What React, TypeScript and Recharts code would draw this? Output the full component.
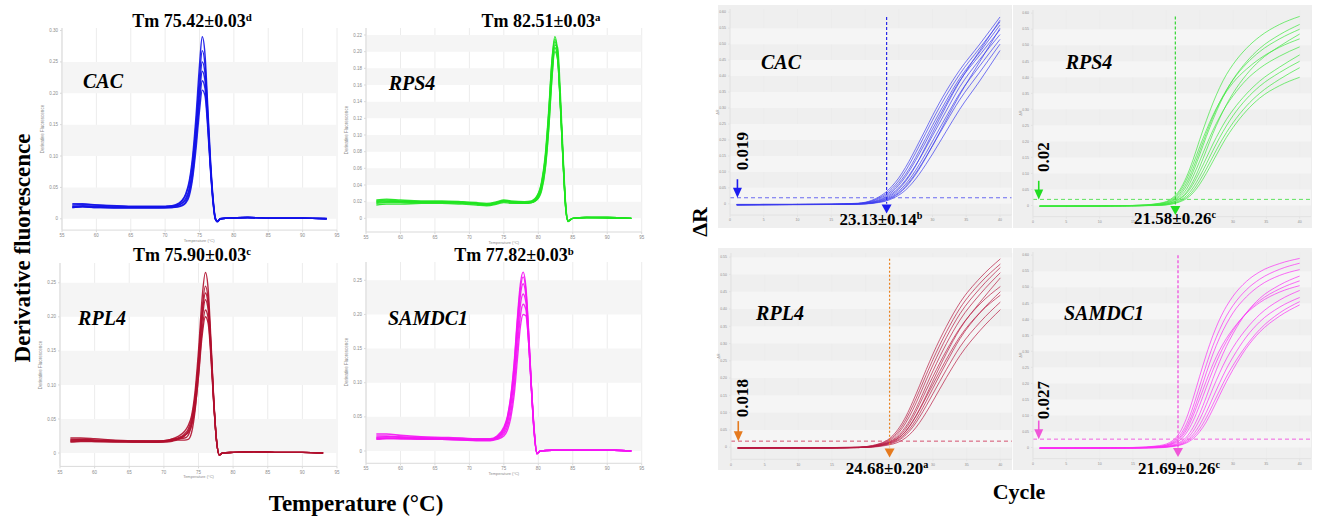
import React from 'react';
import { LineChart, Line, XAxis, YAxis, CartesianGrid, ReferenceArea, ReferenceLine, ReferenceDot } from 'recharts';

const SERIF = '"Liberation Serif", "Times New Roman", serif';
const SANS = '"Liberation Sans", Arial, sans-serif';

// ---------------- Melt curve data ----------------
const CAC_TEMPS = [56.5, 58, 60, 63, 66, 69, 71, 72, 72.5, 73, 73.5, 74, 74.5, 75, 75.4, 75.8, 76.2, 76.6, 77, 77.3, 77.6, 78, 79, 82, 86, 90, 93.5];
const CAC_MELT = [
  [0.022, 0.023, 0.022, 0.021, 0.020, 0.020, 0.021, 0.025, 0.030, 0.040, 0.060, 0.100, 0.165, 0.245, 0.290, 0.262, 0.180, 0.095, 0.030, 0.002, -0.004, 0.000, 0.001, 0.002, 0.001, 0.001, 0.001],
  [0.020, 0.021, 0.020, 0.019, 0.019, 0.019, 0.020, 0.024, 0.029, 0.038, 0.056, 0.092, 0.152, 0.226, 0.268, 0.245, 0.170, 0.088, 0.028, 0.001, -0.004, 0.000, 0.001, 0.002, 0.001, 0.001, 0.000],
  [0.019, 0.020, 0.019, 0.018, 0.018, 0.018, 0.019, 0.022, 0.026, 0.033, 0.048, 0.082, 0.140, 0.210, 0.250, 0.232, 0.162, 0.085, 0.026, 0.000, -0.005, -0.001, 0.001, 0.002, 0.001, 0.001, 0.000],
  [0.024, 0.024, 0.022, 0.020, 0.019, 0.019, 0.020, 0.022, 0.025, 0.030, 0.045, 0.078, 0.132, 0.198, 0.235, 0.220, 0.156, 0.082, 0.025, 0.000, -0.004, 0.000, 0.001, 0.002, 0.001, 0.001, 0.000],
  [0.018, 0.019, 0.018, 0.018, 0.018, 0.018, 0.018, 0.020, 0.022, 0.027, 0.040, 0.070, 0.122, 0.185, 0.220, 0.208, 0.150, 0.080, 0.024, 0.000, -0.004, 0.000, 0.001, 0.002, 0.001, 0.001, 0.000],
  [0.018, 0.019, 0.018, 0.017, 0.017, 0.017, 0.018, 0.019, 0.021, 0.025, 0.036, 0.064, 0.112, 0.172, 0.205, 0.196, 0.144, 0.076, 0.022, -0.001, -0.004, 0.000, 0.001, 0.002, 0.001, 0.001, 0.000],
];

const RPS4_TEMPS = [56.5, 58, 60, 63, 66, 69, 71, 72.5, 74, 75, 76, 78, 79, 80, 80.5, 81, 81.5, 82, 82.4, 82.8, 83.2, 83.6, 84, 84.3, 85, 87, 90, 93.5];
const RPS4_MELT = [
  [0.022, 0.023, 0.022, 0.021, 0.021, 0.020, 0.019, 0.018, 0.020, 0.022, 0.021, 0.020, 0.021, 0.030, 0.045, 0.075, 0.128, 0.192, 0.218, 0.200, 0.140, 0.070, 0.012, -0.003, 0.000, 0.001, 0.001, 0.000],
  [0.020, 0.021, 0.020, 0.020, 0.020, 0.019, 0.018, 0.017, 0.019, 0.021, 0.020, 0.019, 0.020, 0.028, 0.042, 0.070, 0.122, 0.186, 0.212, 0.196, 0.138, 0.068, 0.011, -0.003, 0.000, 0.001, 0.001, 0.000],
  [0.018, 0.019, 0.019, 0.019, 0.019, 0.018, 0.017, 0.016, 0.018, 0.020, 0.019, 0.018, 0.019, 0.026, 0.038, 0.064, 0.114, 0.178, 0.205, 0.192, 0.136, 0.067, 0.010, -0.004, 0.000, 0.001, 0.001, 0.000],
  [0.016, 0.017, 0.017, 0.018, 0.018, 0.017, 0.016, 0.015, 0.017, 0.019, 0.018, 0.018, 0.019, 0.025, 0.036, 0.060, 0.108, 0.172, 0.200, 0.190, 0.135, 0.066, 0.010, -0.003, 0.000, 0.001, 0.000, 0.000],
  [0.021, 0.022, 0.021, 0.020, 0.020, 0.019, 0.018, 0.017, 0.019, 0.021, 0.020, 0.019, 0.019, 0.024, 0.034, 0.058, 0.105, 0.170, 0.208, 0.205, 0.150, 0.076, 0.014, -0.003, 0.000, 0.001, 0.001, 0.000],
  [0.019, 0.020, 0.020, 0.019, 0.019, 0.019, 0.018, 0.016, 0.018, 0.021, 0.020, 0.019, 0.020, 0.029, 0.043, 0.072, 0.125, 0.190, 0.215, 0.198, 0.139, 0.069, 0.011, -0.003, 0.000, 0.001, 0.001, 0.000],
];

const RPL4_TEMPS = [56.5, 58, 60, 63, 66, 69, 70, 71, 72, 73, 73.5, 74, 74.5, 75, 75.5, 76, 76.4, 76.8, 77.2, 77.6, 78, 78.5, 80, 83, 86, 90, 93];
const RPL4_MELT = [
  [0.019, 0.020, 0.019, 0.018, 0.017, 0.017, 0.018, 0.020, 0.024, 0.032, 0.040, 0.055, 0.090, 0.150, 0.225, 0.265, 0.240, 0.165, 0.080, 0.020, -0.002, 0.000, 0.001, 0.002, 0.001, 0.001, 0.000],
  [0.022, 0.022, 0.021, 0.019, 0.018, 0.018, 0.018, 0.020, 0.022, 0.028, 0.035, 0.050, 0.082, 0.138, 0.208, 0.245, 0.225, 0.158, 0.078, 0.019, -0.003, 0.000, 0.001, 0.002, 0.001, 0.001, 0.000],
  [0.017, 0.018, 0.017, 0.017, 0.016, 0.016, 0.017, 0.018, 0.020, 0.025, 0.032, 0.045, 0.075, 0.128, 0.192, 0.225, 0.210, 0.150, 0.075, 0.018, -0.003, 0.000, 0.001, 0.002, 0.001, 0.001, 0.000],
  [0.016, 0.017, 0.017, 0.016, 0.016, 0.016, 0.016, 0.017, 0.019, 0.019, 0.020, 0.030, 0.062, 0.115, 0.178, 0.210, 0.198, 0.145, 0.074, 0.018, -0.003, 0.000, 0.001, 0.002, 0.001, 0.001, 0.000],
  [0.018, 0.018, 0.018, 0.017, 0.017, 0.016, 0.017, 0.018, 0.021, 0.026, 0.030, 0.040, 0.066, 0.112, 0.170, 0.200, 0.190, 0.140, 0.072, 0.018, -0.003, 0.000, 0.001, 0.002, 0.001, 0.001, 0.000],
  [0.020, 0.020, 0.019, 0.018, 0.017, 0.017, 0.017, 0.019, 0.021, 0.022, 0.026, 0.042, 0.078, 0.134, 0.200, 0.235, 0.218, 0.155, 0.077, 0.019, -0.003, 0.000, 0.001, 0.002, 0.001, 0.001, 0.000],
];

const SAMDC1_TEMPS = [56.5, 58, 60, 63, 66, 69, 71, 73, 74, 75, 75.5, 76, 76.5, 77, 77.4, 77.8, 78.2, 78.6, 79, 79.4, 79.8, 80.3, 82, 85, 88, 91, 93.5];
const SAMDC1_MELT = [
  [0.025, 0.025, 0.023, 0.021, 0.020, 0.019, 0.018, 0.018, 0.022, 0.035, 0.050, 0.080, 0.130, 0.200, 0.245, 0.262, 0.240, 0.175, 0.095, 0.030, -0.003, 0.000, 0.001, 0.001, 0.001, 0.001, 0.000],
  [0.020, 0.021, 0.020, 0.019, 0.018, 0.017, 0.017, 0.017, 0.020, 0.031, 0.045, 0.072, 0.118, 0.183, 0.228, 0.245, 0.228, 0.168, 0.092, 0.028, -0.004, 0.000, 0.001, 0.001, 0.001, 0.001, 0.000],
  [0.018, 0.019, 0.019, 0.018, 0.018, 0.017, 0.016, 0.016, 0.019, 0.028, 0.040, 0.065, 0.108, 0.170, 0.214, 0.230, 0.218, 0.162, 0.090, 0.027, -0.004, 0.000, 0.001, 0.001, 0.001, 0.001, 0.000],
  [0.019, 0.019, 0.018, 0.018, 0.017, 0.016, 0.016, 0.016, 0.018, 0.025, 0.035, 0.056, 0.095, 0.155, 0.198, 0.215, 0.207, 0.158, 0.090, 0.028, -0.004, 0.000, 0.001, 0.001, 0.001, 0.001, 0.000],
  [0.017, 0.018, 0.018, 0.017, 0.017, 0.016, 0.015, 0.015, 0.017, 0.022, 0.030, 0.048, 0.082, 0.138, 0.182, 0.200, 0.198, 0.158, 0.094, 0.032, -0.003, 0.000, 0.001, 0.001, 0.001, 0.001, 0.000],
  [0.022, 0.022, 0.021, 0.020, 0.019, 0.018, 0.017, 0.017, 0.021, 0.033, 0.048, 0.078, 0.126, 0.194, 0.238, 0.255, 0.235, 0.172, 0.094, 0.029, -0.004, 0.000, 0.001, 0.001, 0.001, 0.001, 0.000],
];

// ---------------- Amplification data ----------------
const CYCLES = [1, 5, 10, 15, 19, 21, 22, 23, 24, 25, 26, 27, 28, 29, 30, 32, 34, 37, 40];
const CAC_AMP = [
  [-0.003, -0.002, -0.002, -0.001, 0.002, 0.011, 0.021, 0.035, 0.055, 0.081, 0.114, 0.152, 0.193, 0.234, 0.276, 0.352, 0.418, 0.500, 0.585],
  [-0.003, -0.003, -0.002, -0.002, 0.001, 0.008, 0.015, 0.026, 0.042, 0.064, 0.092, 0.126, 0.165, 0.205, 0.246, 0.322, 0.392, 0.475, 0.560],
  [-0.003, -0.002, -0.002, -0.002, 0.000, 0.005, 0.010, 0.019, 0.032, 0.050, 0.074, 0.104, 0.138, 0.175, 0.213, 0.290, 0.365, 0.452, 0.530],
  [-0.002, -0.002, -0.002, -0.002, 0.000, 0.004, 0.009, 0.016, 0.028, 0.046, 0.070, 0.101, 0.138, 0.180, 0.222, 0.305, 0.382, 0.480, 0.575],
  [-0.004, -0.003, -0.003, -0.002, -0.001, 0.002, 0.006, 0.012, 0.021, 0.035, 0.055, 0.081, 0.112, 0.146, 0.182, 0.255, 0.325, 0.412, 0.500],
  [-0.003, -0.003, -0.002, -0.002, -0.001, 0.001, 0.004, 0.008, 0.016, 0.027, 0.043, 0.065, 0.092, 0.123, 0.156, 0.226, 0.295, 0.385, 0.480],
  [-0.002, -0.002, -0.002, -0.001, 0.001, 0.006, 0.012, 0.022, 0.037, 0.058, 0.085, 0.118, 0.155, 0.194, 0.234, 0.312, 0.384, 0.466, 0.545],
  [-0.003, -0.002, -0.002, -0.001, 0.001, 0.009, 0.018, 0.030, 0.048, 0.072, 0.103, 0.140, 0.180, 0.221, 0.262, 0.338, 0.405, 0.488, 0.570],
  [-0.003, -0.003, -0.002, -0.002, 0.000, 0.003, 0.007, 0.014, 0.024, 0.040, 0.061, 0.089, 0.122, 0.158, 0.196, 0.272, 0.345, 0.432, 0.515],
  [-0.002, -0.002, -0.002, -0.002, -0.001, 0.002, 0.005, 0.010, 0.019, 0.032, 0.051, 0.077, 0.108, 0.144, 0.182, 0.262, 0.340, 0.445, 0.550],
];
const RPS4_AMP = [
  [-0.002, -0.002, -0.001, 0.000, 0.007, 0.025, 0.048, 0.088, 0.142, 0.205, 0.265, 0.320, 0.368, 0.408, 0.440, 0.490, 0.527, 0.565, 0.590],
  [-0.002, -0.002, -0.001, 0.000, 0.005, 0.019, 0.037, 0.069, 0.115, 0.170, 0.225, 0.277, 0.322, 0.360, 0.392, 0.442, 0.480, 0.520, 0.550],
  [-0.002, -0.002, -0.002, -0.001, 0.003, 0.014, 0.027, 0.050, 0.090, 0.138, 0.188, 0.235, 0.276, 0.312, 0.342, 0.392, 0.428, 0.466, 0.495],
  [-0.003, -0.002, -0.002, -0.001, 0.002, 0.011, 0.022, 0.041, 0.075, 0.120, 0.172, 0.225, 0.272, 0.314, 0.350, 0.408, 0.452, 0.497, 0.535],
  [-0.002, -0.002, -0.002, -0.001, 0.001, 0.008, 0.016, 0.030, 0.055, 0.090, 0.130, 0.172, 0.212, 0.248, 0.280, 0.332, 0.372, 0.415, 0.450],
  [-0.002, -0.002, -0.002, -0.001, 0.000, 0.005, 0.011, 0.021, 0.039, 0.066, 0.100, 0.138, 0.176, 0.212, 0.243, 0.295, 0.335, 0.374, 0.400],
  [-0.002, -0.002, -0.001, 0.000, 0.004, 0.016, 0.032, 0.060, 0.104, 0.158, 0.215, 0.268, 0.316, 0.358, 0.393, 0.448, 0.490, 0.533, 0.565],
  [-0.002, -0.002, -0.001, 0.000, 0.006, 0.022, 0.043, 0.079, 0.128, 0.183, 0.235, 0.282, 0.322, 0.355, 0.383, 0.425, 0.458, 0.494, 0.520],
  [-0.002, -0.002, -0.002, -0.001, 0.002, 0.010, 0.020, 0.037, 0.066, 0.105, 0.148, 0.192, 0.232, 0.268, 0.298, 0.348, 0.388, 0.432, 0.470],
  [-0.002, -0.002, -0.002, -0.001, 0.001, 0.006, 0.013, 0.025, 0.046, 0.077, 0.114, 0.153, 0.192, 0.227, 0.258, 0.310, 0.350, 0.394, 0.430],
];
const RPL4_AMP = [
  [-0.002, -0.002, -0.002, -0.001, 0.000, 0.005, 0.010, 0.018, 0.033, 0.057, 0.090, 0.132, 0.178, 0.225, 0.270, 0.350, 0.418, 0.490, 0.545],
  [-0.002, -0.002, -0.002, -0.002, 0.000, 0.003, 0.008, 0.014, 0.025, 0.044, 0.072, 0.108, 0.150, 0.195, 0.238, 0.318, 0.386, 0.460, 0.520],
  [-0.002, -0.002, -0.002, -0.002, -0.001, 0.002, 0.006, 0.011, 0.019, 0.033, 0.055, 0.086, 0.124, 0.165, 0.205, 0.280, 0.345, 0.415, 0.465],
  [-0.003, -0.002, -0.002, -0.002, -0.001, 0.002, 0.005, 0.009, 0.016, 0.028, 0.047, 0.075, 0.110, 0.150, 0.192, 0.272, 0.342, 0.420, 0.490],
  [-0.002, -0.002, -0.002, -0.002, -0.001, 0.001, 0.003, 0.007, 0.012, 0.021, 0.036, 0.058, 0.087, 0.120, 0.155, 0.225, 0.290, 0.362, 0.420],
  [-0.003, -0.002, -0.002, -0.002, -0.001, 0.000, 0.002, 0.005, 0.009, 0.016, 0.028, 0.046, 0.071, 0.101, 0.134, 0.202, 0.265, 0.338, 0.398],
  [-0.002, -0.002, -0.002, -0.002, 0.000, 0.003, 0.007, 0.012, 0.021, 0.037, 0.061, 0.094, 0.134, 0.178, 0.221, 0.300, 0.368, 0.443, 0.505],
  [-0.002, -0.002, -0.002, -0.001, 0.000, 0.004, 0.009, 0.016, 0.029, 0.050, 0.081, 0.120, 0.164, 0.210, 0.254, 0.334, 0.402, 0.475, 0.530],
  [-0.002, -0.002, -0.002, -0.002, -0.001, 0.001, 0.004, 0.008, 0.014, 0.024, 0.041, 0.065, 0.097, 0.133, 0.171, 0.245, 0.314, 0.390, 0.450],
  [-0.003, -0.002, -0.002, -0.002, -0.001, 0.002, 0.005, 0.010, 0.017, 0.029, 0.048, 0.075, 0.108, 0.145, 0.182, 0.255, 0.320, 0.390, 0.440],
];
const SAMDC1_AMP = [
  [-0.002, -0.002, -0.001, 0.000, 0.006, 0.022, 0.046, 0.090, 0.152, 0.222, 0.290, 0.350, 0.400, 0.440, 0.472, 0.518, 0.548, 0.574, 0.590],
  [-0.002, -0.002, -0.002, -0.001, 0.003, 0.015, 0.031, 0.062, 0.110, 0.170, 0.233, 0.292, 0.343, 0.385, 0.420, 0.470, 0.505, 0.537, 0.555],
  [-0.002, -0.002, -0.002, -0.001, 0.002, 0.011, 0.022, 0.045, 0.082, 0.132, 0.188, 0.242, 0.290, 0.330, 0.365, 0.420, 0.458, 0.495, 0.520],
  [-0.002, -0.002, -0.002, -0.001, 0.001, 0.008, 0.016, 0.032, 0.062, 0.105, 0.158, 0.215, 0.268, 0.315, 0.355, 0.420, 0.465, 0.507, 0.535],
  [-0.002, -0.002, -0.002, -0.002, 0.000, 0.005, 0.010, 0.021, 0.040, 0.070, 0.110, 0.156, 0.202, 0.245, 0.282, 0.345, 0.392, 0.438, 0.468],
  [-0.002, -0.002, -0.002, -0.002, -0.001, 0.003, 0.007, 0.014, 0.027, 0.049, 0.080, 0.120, 0.163, 0.205, 0.243, 0.310, 0.360, 0.410, 0.445],
  [-0.002, -0.002, -0.001, 0.000, 0.004, 0.018, 0.037, 0.072, 0.126, 0.192, 0.258, 0.318, 0.368, 0.410, 0.443, 0.492, 0.525, 0.556, 0.575],
  [-0.002, -0.002, -0.002, -0.001, 0.003, 0.013, 0.027, 0.054, 0.098, 0.152, 0.208, 0.260, 0.304, 0.340, 0.370, 0.418, 0.452, 0.485, 0.505],
  [-0.002, -0.002, -0.002, -0.001, 0.001, 0.006, 0.013, 0.026, 0.050, 0.087, 0.134, 0.185, 0.233, 0.276, 0.312, 0.370, 0.415, 0.460, 0.490],
  [-0.002, -0.002, -0.002, -0.002, 0.000, 0.004, 0.008, 0.017, 0.033, 0.058, 0.093, 0.135, 0.178, 0.220, 0.256, 0.318, 0.368, 0.420, 0.455],
];

// ---------------- Ticks & labels ----------------
const TEMP_TICKS = [55, 60, 65, 70, 75, 80, 85, 90, 95];
const MELT_TICKS_05 = [0, 0.05, 0.1, 0.15, 0.2, 0.25, 0.3];
const MELT_TICKS_025 = [0, 0.05, 0.1, 0.15, 0.2, 0.25];
const MELT_TICKS_02 = [0, 0.02, 0.04, 0.06, 0.08, 0.1, 0.12, 0.14, 0.16, 0.18, 0.2, 0.22];
const CYCLE_TICKS = [0, 5, 10, 15, 20, 25, 30, 35, 40];
const AMP_TICKS_60 = [0, 0.05, 0.1, 0.15, 0.2, 0.25, 0.3, 0.35, 0.4, 0.45, 0.5, 0.55, 0.6];
const AMP_TICKS_55 = [0, 0.05, 0.1, 0.15, 0.2, 0.25, 0.3, 0.35, 0.4, 0.45, 0.5, 0.55];
const HIDDEN_CYCLE_LABELS = [20, 25];

const GENES = ['CAC', 'RPS4', 'RPL4', 'SAMDC1'];
const TM_VALUES = ['75.42', '82.51', '75.90', '77.82'];
const TM_SD = ['0.03', '0.03', '0.03', '0.03'];
const TM_LETTERS = ['d', 'a', 'c', 'b'];
const CT_VALUES = ['23.13', '21.58', '24.68', '21.69'];
const CT_SD = ['0.14', '0.26', '0.20', '0.26'];
const CT_LETTERS = ['b', 'c', 'a', 'c'];
const THRESHOLDS = ['0.019', '0.02', '0.018', '0.027'];
const THRESH_VALUES = [0.019, 0.019, 0.0175, 0.026];
const CT_LINE_X = [23.2, 21.35, 23.55, 21.75];

const buildRows = (xs: number[], series: number[][]) =>
  xs.map((x, i) => {
    const r: any = { x };
    series.forEach((s, j) => { r['s' + j] = s[i]; });
    return r;
  });

const fmt2 = (v: number) => (v === 0 ? '0' : v.toFixed(2));

const YW = 26, XH = 16, MT = 4, MR = 4;

type PanelCfg = {
  plot: { x0: number; y0: number; x1: number; y1: number };
  xDomain: [number, number];
  yDomain: [number, number];
  xTicks: number[];
  yTicks: number[];
  stripes: [number, number][];
  rows: any[];
  n: number;
  color: string;
  sw: number;
  op: number;
  extras?: React.ReactNode[];
  axisColor: string;
  tickSize: number;
  hideX?: number[];
};

function Panel(c: PanelCfg) {
  const w = c.plot.x1 - c.plot.x0 + YW + MR;
  const h = c.plot.y1 - c.plot.y0 + MT + XH;
  const tick = { fontSize: c.tickSize, fill: '#8c8c8c', fontFamily: SANS };
  const hide = c.hideX || [];
  const lines = [];
  for (let i = 0; i < c.n; i++) {
    lines.push(
      <Line key={'l' + i} type="monotone" dataKey={'s' + i} stroke={c.color} strokeWidth={c.sw} strokeOpacity={c.op}
        dot={false} activeDot={false} isAnimationActive={false} />
    );
  }
  return (
    <div style={{ position: 'absolute', left: c.plot.x0 - YW, top: c.plot.y0 - MT }}>
      <LineChart width={w} height={h} data={c.rows} margin={{ top: MT, right: MR, left: 0, bottom: 0 }}>
        {c.stripes.map((s, i) => (
          <ReferenceArea key={'st' + i} y1={s[0]} y2={s[1]} fill="#f5f5f5" fillOpacity={1} stroke="none" ifOverflow="hidden" />
        ))}
        <CartesianGrid horizontal={false} vertical={true} stroke="#ececec" />
        <XAxis type="number" dataKey="x" domain={c.xDomain} ticks={c.xTicks} allowDataOverflow height={XH}
          tick={tick} tickSize={2} tickFormatter={(v: number) => (hide.includes(v) ? '' : String(v))}
          tickLine={{ stroke: c.axisColor }} axisLine={{ stroke: c.axisColor }} interval={0} />
        <YAxis type="number" domain={c.yDomain} ticks={c.yTicks} allowDataOverflow width={YW}
          tick={tick} tickSize={2} tickFormatter={fmt2} tickLine={{ stroke: c.axisColor }} axisLine={{ stroke: c.axisColor }} interval={0} />
        {lines}
        {c.extras || []}
      </LineChart>
    </div>
  );
}

function Txt({ x, y, size, rot = false, italic = false, color = '#000', weight = 'bold', family = SERIF, children }: any) {
  return (
    <div style={{
      position: 'absolute', left: x, top: y,
      transform: `translate(-50%, -50%)${rot ? ' rotate(-90deg)' : ''}`,
      fontFamily: family, fontSize: size, fontWeight: weight, fontStyle: italic ? 'italic' : 'normal',
      color, whiteSpace: 'nowrap', lineHeight: 1,
    }}>{children}</div>
  );
}

const Sup = ({ c }: { c: string }) => <span style={{ fontSize: '0.6em', verticalAlign: '0.55em' }}>{c}</span>;

const triDown = (color: string, w: number, hgt: number) => (p: any) => (
  <path d={`M${p.cx - w / 2},${p.cy - hgt} L${p.cx + w / 2},${p.cy - hgt} L${p.cx},${p.cy} Z`} fill={color} />
);

function ampExtras(i: number, threshColor: string, vColor: string, arrowColor: string, arrowX: number, vTop: number, vDash: string) {
  const t = THRESH_VALUES[i];
  const ct = CT_LINE_X[i];
  return [
    <ReferenceLine key="th" y={t} stroke={threshColor} strokeDasharray="4 3" strokeWidth={1} />,
    <ReferenceLine key="vl" segment={[{ x: ct, y: vTop }, { x: ct, y: 0 }]} stroke={vColor} strokeDasharray={vDash} strokeWidth={1.2} />,
    <ReferenceDot key="ca" x={ct} y={-0.03} r={5} shape={triDown(arrowColor, 10, 9)} />,
    <ReferenceLine key="sh" segment={[{ x: arrowX, y: t + 0.058 }, { x: arrowX, y: t + 0.025 }]} stroke={arrowColor} strokeWidth={1.6} />,
    <ReferenceDot key="ta" x={arrowX} y={t} r={5} shape={triDown(arrowColor, 9, 10)} />,
  ];
}

const MELT_PANELS: PanelCfg[] = [
  {
    plot: { x0: 61.7, y0: 28.2, x1: 336.7, y1: 230.3 }, xDomain: [55, 95], yDomain: [-0.018, 0.304],
    xTicks: TEMP_TICKS, yTicks: MELT_TICKS_05, stripes: [[0, 0.05], [0.1, 0.15], [0.2, 0.25]],
    rows: buildRows(CAC_TEMPS, CAC_MELT), n: CAC_MELT.length, color: '#1212e8', sw: 1.4, op: 0.9, axisColor: '#dadada', tickSize: 4.5,
  },
  {
    plot: { x0: 366, y0: 28, x1: 641.7, y1: 232 }, xDomain: [55, 95], yDomain: [-0.0164, 0.2284],
    xTicks: TEMP_TICKS, yTicks: MELT_TICKS_02, stripes: [[0, 0.02], [0.04, 0.06], [0.08, 0.1], [0.12, 0.14], [0.16, 0.18], [0.2, 0.22]],
    rows: buildRows(RPS4_TEMPS, RPS4_MELT), n: RPS4_MELT.length, color: '#1fe41f', sw: 1.4, op: 0.9, axisColor: '#dadada', tickSize: 4.5,
  },
  {
    plot: { x0: 60, y0: 263.3, x1: 337, y1: 466.7 }, xDomain: [55, 95], yDomain: [-0.0196, 0.279],
    xTicks: TEMP_TICKS, yTicks: MELT_TICKS_025, stripes: [[0, 0.05], [0.1, 0.15], [0.2, 0.25]],
    rows: buildRows(RPL4_TEMPS, RPL4_MELT), n: RPL4_MELT.length, color: '#b0102e', sw: 1.4, op: 0.9, axisColor: '#dadada', tickSize: 4.5,
  },
  {
    plot: { x0: 366, y0: 261.7, x1: 641.7, y1: 463 }, xDomain: [55, 95], yDomain: [-0.018, 0.2768],
    xTicks: TEMP_TICKS, yTicks: MELT_TICKS_025, stripes: [[0, 0.05], [0.1, 0.15], [0.2, 0.25]],
    rows: buildRows(SAMDC1_TEMPS, SAMDC1_MELT), n: SAMDC1_MELT.length, color: '#f414f4', sw: 1.4, op: 0.9, axisColor: '#dadada', tickSize: 4.5,
  },
];

const AMP_STRIPES: [number, number][] = [[0, 0.05], [0.1, 0.15], [0.2, 0.25], [0.3, 0.35], [0.4, 0.45], [0.5, 0.55]];

const AMP_PANELS: PanelCfg[] = [
  {
    plot: { x0: 730, y0: 8.5, x1: 1011.5, y1: 214.5 }, xDomain: [0, 41.7], yDomain: [-0.035, 0.61],
    xTicks: CYCLE_TICKS, yTicks: AMP_TICKS_60, stripes: AMP_STRIPES,
    rows: buildRows(CYCLES, CAC_AMP), n: CAC_AMP.length, color: '#3c3cf0', sw: 1, op: 0.7, axisColor: '#e2e2e2', tickSize: 3.5,
    hideX: HIDDEN_CYCLE_LABELS,
    extras: ampExtras(0, '#6a6af0', '#2a2ae8', '#1c1cf0', 1.1, 0.585, '3 2'),
  },
  {
    plot: { x0: 1033.3, y0: 9.5, x1: 1311.3, y1: 216.2 }, xDomain: [0, 41.7], yDomain: [-0.035, 0.61],
    xTicks: CYCLE_TICKS, yTicks: AMP_TICKS_60, stripes: AMP_STRIPES,
    rows: buildRows(CYCLES, RPS4_AMP), n: RPS4_AMP.length, color: '#3fe83f', sw: 1, op: 0.7, axisColor: '#e2e2e2', tickSize: 3.5,
    hideX: HIDDEN_CYCLE_LABELS,
    extras: ampExtras(1, '#5ee25e', '#33d633', '#22dd22', 0.86, 0.59, '3 2'),
  },
  {
    plot: { x0: 730.7, y0: 252.5, x1: 1011.5, y1: 458.8 }, xDomain: [0, 41.7], yDomain: [-0.035, 0.562],
    xTicks: CYCLE_TICKS, yTicks: AMP_TICKS_55, stripes: AMP_STRIPES,
    rows: buildRows(CYCLES, RPL4_AMP), n: RPL4_AMP.length, color: '#b81a42', sw: 1, op: 0.7, axisColor: '#e2e2e2', tickSize: 3.5,
    hideX: HIDDEN_CYCLE_LABELS,
    extras: ampExtras(2, '#d4506e', '#e8801e', '#e57a1e', 1.08, 0.545, '2 2'),
  },
  {
    plot: { x0: 1033.3, y0: 251.8, x1: 1311.3, y1: 458.5 }, xDomain: [0, 41.7], yDomain: [-0.035, 0.61],
    xTicks: CYCLE_TICKS, yTicks: AMP_TICKS_60, stripes: AMP_STRIPES,
    rows: buildRows(CYCLES, SAMDC1_AMP), n: SAMDC1_AMP.length, color: '#fb2ef5', sw: 1, op: 0.7, axisColor: '#e2e2e2', tickSize: 3.5,
    hideX: HIDDEN_CYCLE_LABELS,
    extras: ampExtras(3, '#f060e0', '#ee44dd', '#f055d8', 0.86, 0.6, '3 2'),
  },
];

const AMP_FRAMES = [
  { left: 718, top: 5, width: 294, height: 223 },
  { left: 1013, top: 5, width: 299, height: 223 },
  { left: 718, top: 248, width: 294, height: 222 },
  { left: 1013, top: 248, width: 299, height: 222 },
];

const TM_POS = [[192, 21], [541, 21], [192, 254.5], [514, 254.5]];
const MELT_GENE_POS = [[103, 81], [412, 83], [102, 318], [428, 318]];
const AMP_GENE_POS = [[781, 62], [1089, 62], [780, 313], [1104, 313]];
const CT_POS = [[881, 219], [1175, 218], [887, 468], [1179, 468]];
const TH_POS = [[742, 151], [1043, 157], [742, 398], [1043, 400]];

export default function App() {
  return (
    <div style={{ position: 'absolute', left: 0, top: 0, width: 1319, height: 517, background: '#fff', overflow: 'hidden' }}>
      {AMP_FRAMES.map((f, i) => (
        <div key={'fr' + i} style={{ position: 'absolute', ...f, background: '#efefef' }} />
      ))}
      {MELT_PANELS.map((p, i) => (
        <React.Fragment key={'m' + i}>
          <Panel {...p} />
          <Txt x={(p.plot.x0 + p.plot.x1) / 2} y={p.plot.y1 + 10.5} size={4} weight="normal" family={SANS} color="#8c8c8c">Temperature (°C)</Txt>
          <Txt x={p.plot.x0 - 19} y={(p.plot.y0 + p.plot.y1) / 2} size={4.5} rot weight="normal" family={SANS} color="#8c8c8c">Derivative Fluorescence</Txt>
        </React.Fragment>
      ))}
      {AMP_PANELS.map((p, i) => (
        <React.Fragment key={'a' + i}>
          <Panel {...p} />
          <Txt x={p.plot.x0 - 11} y={(p.plot.y0 + p.plot.y1) / 2} size={3.5} rot weight="normal" family={SANS} color="#8c8c8c">ΔR</Txt>
        </React.Fragment>
      ))}
      {GENES.map((g, i) => (
        <React.Fragment key={'t' + i}>
          <Txt x={TM_POS[i][0]} y={TM_POS[i][1]} size={18}>Tm {TM_VALUES[i]}±{TM_SD[i]}<Sup c={TM_LETTERS[i]} /></Txt>
          <Txt x={MELT_GENE_POS[i][0]} y={MELT_GENE_POS[i][1]} size={20} italic>{g}</Txt>
          <Txt x={AMP_GENE_POS[i][0]} y={AMP_GENE_POS[i][1]} size={20} italic>{g}</Txt>
          <Txt x={CT_POS[i][0]} y={CT_POS[i][1]} size={17}>{CT_VALUES[i]}±{CT_SD[i]}<Sup c={CT_LETTERS[i]} /></Txt>
          <Txt x={TH_POS[i][0]} y={TH_POS[i][1]} size={17} rot>{THRESHOLDS[i]}</Txt>
        </React.Fragment>
      ))}
      <Txt x={22} y={248} size={23} rot>Derivative fluorescence</Txt>
      <Txt x={356} y={503} size={23}>Temperature (°C)</Txt>
      <Txt x={700} y={222} size={22} rot>ΔR</Txt>
      <Txt x={1019} y={492} size={22}>Cycle</Txt>
    </div>
  );
}
